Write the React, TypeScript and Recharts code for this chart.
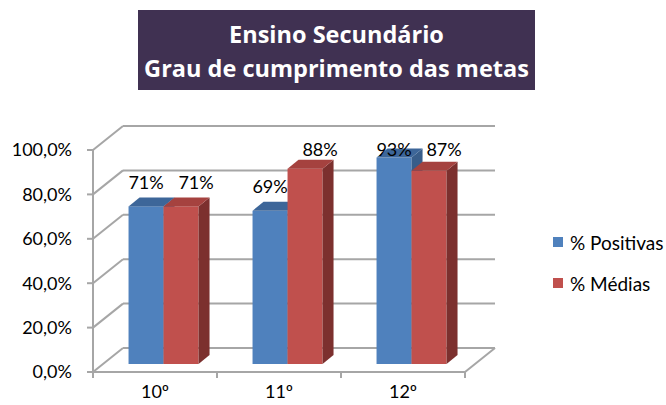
import React from 'react';
import { BarChart, Bar, XAxis, YAxis, CartesianGrid, LabelList } from 'recharts';

// chart values
const CATEGORIES = ['10º', '11º', '12º'];
const POSITIVAS = [0.71, 0.69, 0.93];
const MEDIAS = [0.71, 0.88, 0.87];
const Y_TICKS = [0, 0.2, 0.4, 0.6, 0.8, 1];
const SERIES_NAMES = ['% Positivas', '% Médias'];
const TITLE_LINES = ['Ensino Secundário', 'Grau de cumprimento das metas'];

const data = CATEGORIES.map((cat, i) => ({ cat, pos: POSITIVAS[i], med: MEDIAS[i] }));

const FONT = 'Lato, "Open Sans", sans-serif';
const TITLE_FONT = '"Open Sans", Lato, sans-serif';
const GRID = '#a6a6a6';
const COLORS = [
  { front: '#4f81bd', top: '#3d6699', side: '#385d8a' },
  { front: '#c0504d', top: '#a5423f', side: '#7c302e' },
];

// pseudo 3d offsets
const WALL_DX = 30;
const WALL_DY = 24;
const BAR_DX = 9;
const BAR_DY = 8;
const DEPTH_X = 11;
const DEPTH_Y = 9;

const Bar3D = (props: any) => {
  const { x, y, width, height, idx } = props;
  if (width == null || height == null) return null;
  const c = COLORS[idx];
  const fx = x + BAR_DX;
  const fy = y - BAR_DY;
  const w = width;
  const h = height;
  return (
    <g>
      <rect x={fx} y={fy} width={w} height={h} fill={c.front} />
      <polygon
        points={`${fx + w},${fy} ${fx + w + DEPTH_X},${fy - DEPTH_Y} ${fx + w + DEPTH_X},${fy + h - DEPTH_Y} ${fx + w},${fy + h}`}
        fill={c.side}
      />
      <polygon
        points={`${fx},${fy} ${fx + DEPTH_X},${fy - DEPTH_Y} ${fx + w + DEPTH_X},${fy - DEPTH_Y} ${fx + w},${fy}`}
        fill={c.top}
      />
    </g>
  );
};

const makeLabel = (shift: number) => (props: any) => {
  const { x, y, width, value } = props;
  const cy = Math.max(y - BAR_DY - 24, 150);
  return (
    <text
      x={x + BAR_DX + width / 2 + shift}
      y={cy}
      dy="0.355em"
      textAnchor="middle"
      fontFamily={FONT}
      fontSize={18}
      fill="#000"
    >
      {`${Math.round(value * 100)}%`}
    </text>
  );
};

const gridLine = (props: any) => {
  const { x1, x2, y1 } = props;
  return (
    <g key={`g-${y1}`}>
      <line x1={x1} y1={y1} x2={x1 + WALL_DX} y2={y1 - WALL_DY} stroke={GRID} strokeWidth={2} />
      <line x1={x1 + WALL_DX} y1={y1 - WALL_DY} x2={x2 + WALL_DX} y2={y1 - WALL_DY} stroke={GRID} strokeWidth={2} />
    </g>
  );
};

const XTick = (props: any) => {
  const { x, y, payload, index } = props;
  const half = payload && payload.offset ? payload.offset : 62;
  const last = index === CATEGORIES.length - 1;
  return (
    <g>
      <line x1={x - half} y1={y} x2={x - half} y2={y + 6} stroke={GRID} strokeWidth={2} />
      {last && (
        <>
          <line x1={x + half} y1={y} x2={x + half} y2={y + 6} stroke={GRID} strokeWidth={2} />
          <line x1={x + half} y1={y} x2={x + half + WALL_DX} y2={y - WALL_DY} stroke={GRID} strokeWidth={2} />
        </>
      )}
      <text x={x} y={y + 26} textAnchor="middle" fontFamily={FONT} fontSize={18} fill="#000">
        {payload.value}
      </text>
    </g>
  );
};

const fmtPct = (v: number) => `${(v * 100).toFixed(1).replace('.', ',')}%`;

export default function App() {
  return (
    <div style={{ position: 'absolute', left: 0, top: 0, width: 666, height: 405, background: '#fff', fontFamily: FONT }}>
      <div
        style={{
          position: 'absolute',
          left: 138,
          top: 10,
          width: 397,
          height: 80,
          background: '#403152',
          color: '#fff',
          fontFamily: TITLE_FONT,
          fontWeight: 700,
          fontSize: 23.5,
          lineHeight: '34px',
          textAlign: 'center',
          paddingTop: 7,
          boxSizing: 'border-box',
          whiteSpace: 'nowrap',
        }}
      >
        {TITLE_LINES.map((t) => (
          <div key={t}>{t}</div>
        ))}
      </div>
      <BarChart
        width={666}
        height={405}
        data={data}
        margin={{ top: 150, right: 201, bottom: 0, left: 0 }}
        barGap={0}
        barCategoryGap="21.4%"
      >
        <CartesianGrid horizontal={gridLine} vertical={false} />
        <XAxis
          dataKey="cat"
          height={33}
          axisLine={{ stroke: GRID, strokeWidth: 2 }}
          tickLine={false}
          tickSize={0}
          tickMargin={0}
          tick={<XTick />}
          interval={0}
        />
        <YAxis
          width={93}
          domain={[0, 1]}
          ticks={Y_TICKS}
          tickFormatter={fmtPct}
          axisLine={{ stroke: GRID, strokeWidth: 2 }}
          tickLine={{ stroke: GRID, strokeWidth: 2 }}
          tickSize={6}
          tickMargin={15}
          tick={{ fill: '#000', fontSize: 18, fontFamily: FONT }}
        />
        <Bar dataKey="pos" name={SERIES_NAMES[0]} fill={COLORS[0].front} isAnimationActive={false} shape={(p: any) => <Bar3D {...p} idx={0} />}>
          <LabelList dataKey="pos" content={makeLabel(0)} />
        </Bar>
        <Bar dataKey="med" name={SERIES_NAMES[1]} fill={COLORS[1].front} isAnimationActive={false} shape={(p: any) => <Bar3D {...p} idx={1} />}>
          <LabelList dataKey="med" content={makeLabel(15)} />
        </Bar>
      </BarChart>
      {SERIES_NAMES.map((name, i) => (
        <div key={name} style={{ position: 'absolute', left: 553, top: 232 + i * 41, height: 20, display: 'flex', alignItems: 'center' }}>
          <div style={{ width: 10, height: 10, background: COLORS[i].front, marginRight: 7 }} />
          <span style={{ fontSize: 19, color: '#000', whiteSpace: 'nowrap' }}>{name}</span>
        </div>
      ))}
    </div>
  );
}
